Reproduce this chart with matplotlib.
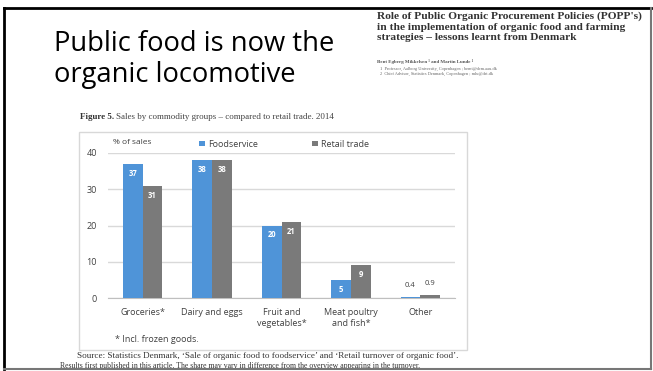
import matplotlib.pyplot as plt
from matplotlib.patches import Rectangle
from matplotlib.lines import Line2D
import numpy as np

# data
categories = ['Groceries*', 'Dairy and eggs', 'Fruit and\nvegetables*', 'Meat poultry\nand fish*', 'Other']
foodservice = [37, 38, 20, 5, 0.4]
retail = [31, 38, 21, 9, 0.9]
food_labels = ['37', '38', '20', '5', '0.4']
retail_labels = ['31', '38', '21', '9', '0.9']
yticks = [0, 10, 20, 30, 40]

W, H = 653, 371
blue = '#4f94d8'
grey = '#7a7a7a'
chart_font = 'Open Sans'

fig = plt.figure(figsize=(W / 100, H / 100), dpi=100)
fig.patch.set_facecolor('white')

def fx(px):
    return px / W

def fy(py):
    return 1 - py / H

# slide title
fig.text(fx(54), fy(51), 'Public food is now the', fontsize=19.7, family='Open Sans',
         va='baseline', ha='left', color='black')
fig.text(fx(54), fy(82), 'organic locomotive', fontsize=19.7, family='Open Sans',
         va='baseline', ha='left', color='black')

# article header
art_lines = ["Role of Public Organic Procurement Policies (POPP's)",
             "in the implementation of organic food and farming",
             "strategies \u2013 lessons learnt from Denmark"]
for k, line in enumerate(art_lines):
    fig.text(fx(377), fy(16 + 11 * k), line, fontsize=8.2, family='Liberation Serif',
             weight='bold', va='center', ha='left', color='#333333')
fig.text(fx(377), fy(62), 'Bent Egberg Mikkelsen \u00b9 and Martin Lunde \u00b9', fontsize=3.6,
         family='Liberation Serif', weight='bold', va='center', ha='left', color='#555555')
fig.text(fx(380), fy(69), '1  Professor, Aalborg University, Copenhagen ; bemi@dcm.aau.dk',
         fontsize=3.2, family='Liberation Serif', va='center', ha='left', color='#666666')
fig.text(fx(380), fy(74), '2  Chief Advisor, Statistics Denmark, Copenhagen ; mlu@dst.dk',
         fontsize=3.2, family='Liberation Serif', va='center', ha='left', color='#666666')

fig.text(fx(80), fy(117), 'Figure 5.', fontsize=6.5, family='Liberation Serif', weight='bold',
         va='center', ha='left', color='#333333')
fig.text(fx(116), fy(117), 'Sales by commodity groups \u2013 compared to retail trade. 2014',
         fontsize=6.5, family='Liberation Serif', va='center', ha='left', color='#444444')

# chart box
fig.add_artist(Rectangle((fx(79), fy(350)), fx(467) - fx(79), fy(132) - fy(350),
                         fill=False, ec='#d8d8d8', lw=1))

ax = fig.add_axes([fx(108), fy(298), fx(455) - fx(108), fy(153) - fy(298)])
x = np.arange(len(categories))
bw = 0.285
b1 = ax.bar(x - bw / 2, foodservice, bw, color=blue, label='Foodservice', zorder=3)
b2 = ax.bar(x + bw / 2, retail, bw, color=grey, label='Retail trade', zorder=3)

ax.set_xlim(-0.5, len(categories) - 0.5)
ax.set_ylim(0, 40)
ax.set_yticks(yticks)
ax.set_yticklabels([str(t) for t in yticks], fontsize=6.5, family=chart_font, color='#404040')
ax.set_xticks(x)
ax.set_xticklabels(categories, fontsize=6.5, family=chart_font, color='#404040', linespacing=1.3)
ax.tick_params(axis='both', length=0)
ax.tick_params(axis='y', pad=8)
ax.tick_params(axis='x', pad=7)
ax.grid(axis='y', color='#d9d9d9', lw=1, zorder=0)
for s in ['top', 'right', 'left']:
    ax.spines[s].set_visible(False)
ax.spines['bottom'].set_color('#bfbfbf')
ax.set_facecolor('none')

# value labels
for i in range(len(categories)):
    for bars, labs in ((b1, food_labels), (b2, retail_labels)):
        r = bars[i]
        h = r.get_height()
        cx = r.get_x() + r.get_width() / 2
        if h > 3:
            ax.text(cx, h - 2.6, labs[i], ha='center', va='center', fontsize=5.5,
                    family=chart_font, weight='bold', color='white', zorder=4)
        else:
            ax.text(cx, h + 3, labs[i], ha='center', va='center', fontsize=5.5,
                    family=chart_font, color='#404040', zorder=4)

ax.text(0.015, 1.075, '% of sales', transform=ax.transAxes, fontsize=6, family=chart_font,
        color='#404040', va='center', ha='left')
ax.legend(loc='center left', bbox_to_anchor=(0.25, 1.06), ncol=2, frameon=False,
          prop={'family': chart_font, 'size': 6.5}, handlelength=0.6, handleheight=0.6,
          handletextpad=0.4, columnspacing=6.0, labelcolor='#404040', borderpad=0)

fig.text(fx(115), fy(340), '* Incl. frozen goods.', fontsize=6.5, family=chart_font,
         color='#404040', va='center', ha='left')

fig.text(fx(77), fy(356), "Source: Statistics Denmark, \u2018Sale of organic food to foodservice\u2019 and \u2018Retail turnover of organic food\u2019.",
         fontsize=6.6, family='Liberation Serif', color='#333333', va='center', ha='left')
fig.text(fx(60), fy(366), "Results first published in this article. The share may vary in difference from the overview appearing in the turnover.",
         fontsize=5.6, family='Liberation Serif', color='#333333', va='center', ha='left')

# slide frame
fig.add_artist(Rectangle((0, 0), 1, fy(369), color='white', zorder=10))
fig.add_artist(Line2D([fx(4), fx(4)], [fy(8), fy(369)], color='black', lw=2, zorder=11))
fig.add_artist(Line2D([fx(4), fx(651)], [fy(8), fy(8)], color='black', lw=2, zorder=11))
fig.add_artist(Line2D([fx(651), fx(651)], [fy(8), fy(369)], color='#777777', lw=1.5, zorder=11))
fig.add_artist(Line2D([fx(4), fx(651)], [fy(369), fy(369)], color='#777777', lw=1.5, zorder=11))

fig.savefig('out.png', dpi=100, facecolor='white')
